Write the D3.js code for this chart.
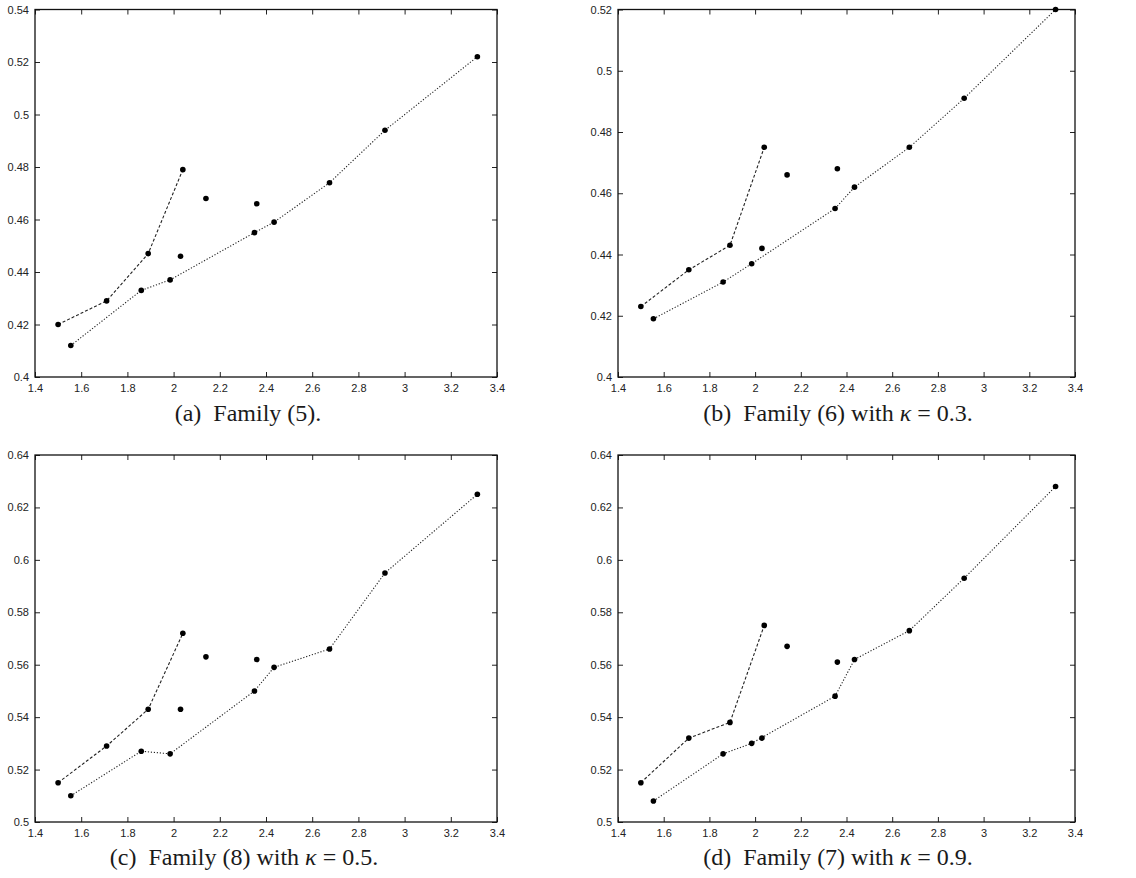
<!DOCTYPE html>
<meta charset="utf-8">
<style>
  body { margin: 0; background: #fff; }
  .tick text { font-family: "Liberation Sans", Arial, sans-serif; font-size: 11px; fill: #222; }
  .caption { font-family: "Liberation Serif", "Times New Roman", Times, serif; font-size: 24px; fill: #1a1a1a; }
</style>
<body>
<div class="chart"></div>
<script src="https://d3js.org/d3.v7.min.js"></script>
<script>

    // shared x positions
    const xDashed = [1.50, 1.71, 1.89, 2.04];
    const xLone = [2.03, 2.14, 2.36];
    const xDotted = [1.555, 1.86, 1.985, 2.35, 2.435, 2.675, 2.915, 3.315];

    // panel (a)
    const dashedA = [0.420, 0.429, 0.447, 0.479];
    const loneA = [0.446, 0.468, 0.466];
    const dottedA = [0.412, 0.433, 0.437, 0.455, 0.459, 0.474, 0.494, 0.522];
    // panel (b)
    const dashedB = [0.423, 0.435, 0.443, 0.475];
    const loneB = [0.442, 0.466, 0.468];
    const dottedB = [0.419, 0.431, 0.437, 0.455, 0.462, 0.475, 0.491, 0.520];
    // panel (c)
    const dashedC = [0.515, 0.529, 0.543, 0.572];
    const loneC = [0.543, 0.563, 0.562];
    const dottedC = [0.510, 0.527, 0.526, 0.550, 0.559, 0.566, 0.595, 0.625];
    // panel (d)
    const dashedD = [0.515, 0.532, 0.538, 0.575];
    const loneD = [0.532, 0.567, 0.561];
    const dottedD = [0.508, 0.526, 0.530, 0.548, 0.562, 0.573, 0.593, 0.628];

    const xTicks = [1.4, 1.6, 1.8, 2, 2.2, 2.4, 2.6, 2.8, 3, 3.2, 3.4];
    const yTicksAB = [0.4, 0.42, 0.44, 0.46, 0.48, 0.5, 0.52, 0.54];
    const yTicksCD = [0.5, 0.52, 0.54, 0.56, 0.58, 0.6, 0.62, 0.64];

    const captions = [
        {tag: "(a)", text: "Family (5).", kappa: null},
        {tag: "(b)", text: "Family (6) with ", kappa: "0.3"},
        {tag: "(c)", text: "Family (8) with ", kappa: "0.5"},
        {tag: "(d)", text: "Family (7) with ", kappa: "0.9"}
    ];

    const panels = [
        {left: 35, top: 9.5, w: 462, h: 367.5, yDom: [0.4, 0.54], yTicks: yTicksAB,
            dashed: dashedA, lone: loneA, dotted: dottedA, capX: 248, capY: 421},
        {left: 618, top: 9.5, w: 457, h: 367.5, yDom: [0.4, 0.52], yTicks: yTicksAB.slice(0, 7),
            dashed: dashedB, lone: loneB, dotted: dottedB, capX: 838, capY: 421},
        {left: 35, top: 455, w: 462, h: 367, yDom: [0.5, 0.64], yTicks: yTicksCD,
            dashed: dashedC, lone: loneC, dotted: dottedC, capX: 244, capY: 865},
        {left: 618, top: 455, w: 457, h: 367, yDom: [0.5, 0.64], yTicks: yTicksCD,
            dashed: dashedD, lone: loneD, dotted: dottedD, capX: 838, capY: 865}
    ];

    let svg = d3.select(".chart").append("svg")
        .attr("width", 1136)
        .attr("height", 878);

    let fmt = d => String(+d.toFixed(2));

    panels.forEach((p, i) => {
        let x = d3.scaleLinear().domain([1.4, 3.4]).range([0, p.w]);
        let y = d3.scaleLinear().domain(p.yDom).range([p.h, 0]);

        let g = svg.append("g").attr("transform", `translate(${p.left},${p.top})`);

        // axes with inward ticks on all four sides
        let bottom = g.append("g").attr("transform", `translate(0,${p.h})`)
            .call(d3.axisBottom(x).tickValues(xTicks).tickFormat(fmt).tickSizeInner(-5).tickSizeOuter(0).tickPadding(7));
        let top = g.append("g")
            .call(d3.axisTop(x).tickValues(xTicks).tickFormat("").tickSizeInner(-5).tickSizeOuter(0));
        let left = g.append("g")
            .call(d3.axisLeft(y).tickValues(p.yTicks).tickFormat(fmt).tickSizeInner(-5).tickSizeOuter(0).tickPadding(6));
        let right = g.append("g").attr("transform", `translate(${p.w},0)`)
            .call(d3.axisRight(y).tickValues(p.yTicks).tickFormat("").tickSizeInner(-5).tickSizeOuter(0));

        [bottom, top, left, right].forEach(a => {
            a.select(".domain").remove();
            a.selectAll(".tick line").attr("stroke", "#222").attr("stroke-width", 1);
        });

        g.append("rect")
            .attr("width", p.w)
            .attr("height", p.h)
            .attr("fill", "none")
            .attr("stroke", "#111")
            .attr("stroke-width", 1.3);

        let line = d3.line().x(d => x(d[0])).y(d => y(d[1]));

        let dashedPts = xDashed.map((v, k) => [v, p.dashed[k]]);
        let dottedPts = xDotted.map((v, k) => [v, p.dotted[k]]);
        let lonePts = xLone.map((v, k) => [v, p.lone[k]]);

        g.append("path")
            .attr("d", line(dashedPts))
            .attr("fill", "none")
            .attr("stroke", "#222")
            .attr("stroke-width", 1.1)
            .attr("stroke-dasharray", "3,2");

        g.append("path")
            .attr("d", line(dottedPts))
            .attr("fill", "none")
            .attr("stroke", "#222")
            .attr("stroke-width", 1.1)
            .attr("stroke-dasharray", "1.2,1.8");

        g.selectAll("circle.pt")
            .data(dashedPts.concat(lonePts, dottedPts))
            .join("circle")
            .attr("class", "pt")
            .attr("cx", d => x(d[0]))
            .attr("cy", d => y(d[1]))
            .attr("r", 2.8)
            .attr("fill", "#000");

        // caption
        let c = captions[i];
        let t = svg.append("text")
            .attr("class", "caption")
            .attr("x", p.capX)
            .attr("y", p.capY)
            .attr("text-anchor", "middle");
        t.append("tspan").text(c.tag + "\u2002" + c.text);
        if (c.kappa) {
            t.append("tspan").style("font-style", "italic").text("\u03BA");
            t.append("tspan").text(" = " + c.kappa + ".");
        }
    });

</script>
</body>
